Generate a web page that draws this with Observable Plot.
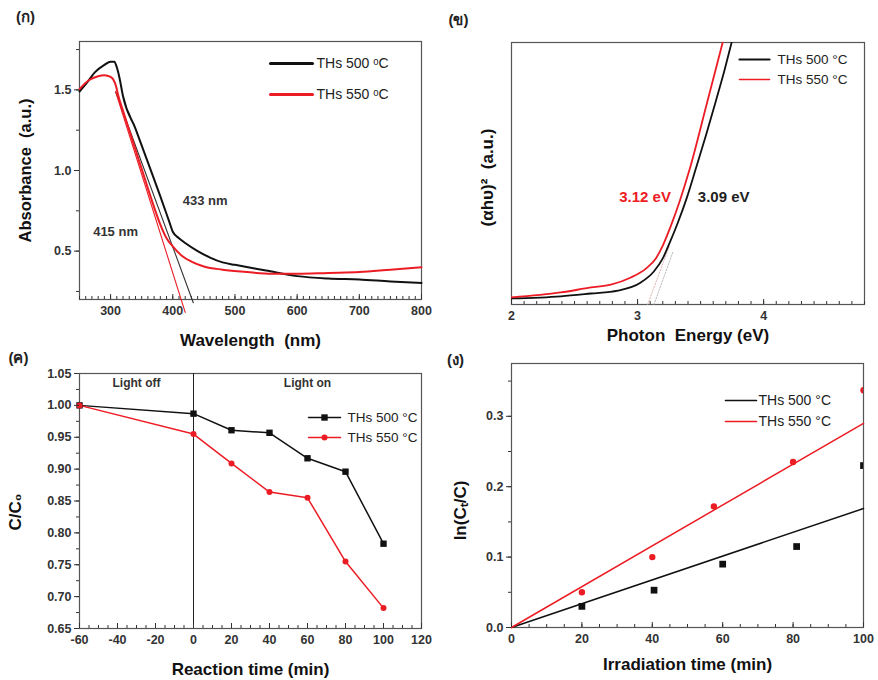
<!DOCTYPE html>
<html>
<head>
<meta charset="utf-8">
<script src="https://cdn.jsdelivr.net/npm/d3@7"></script>
<script src="https://cdn.jsdelivr.net/npm/@observablehq/plot@0.6"></script>
<style>
  html, body { margin: 0; padding: 0; background: #fff; }
  #wrap { position: relative; width: 878px; height: 680px; overflow: hidden; background: #fff; }
  .panel { position: absolute; }
</style>
</head>
<body>
<div id="wrap"></div>
<script>
// ---------- DATA ----------
// Panel (ก): UV-Vis absorbance
const wl500 = [250,262,275,290,300,306,310,314,320,340,360,380,395,400,410,420,440,460,480,500,550,600,650,700,750,800];
const abs500 = [1.49,1.545,1.61,1.655,1.675,1.675,1.64,1.58,1.46,1.26,1.05,0.84,0.675,0.62,0.58,0.55,0.50,0.46,0.43,0.415,0.38,0.345,0.33,0.324,0.312,0.303];
const wl550 = [250,265,280,290,300,305,309,312,320,335,350,365,380,390,400,415,430,450,480,520,560,600,650,700,750,800];
const abs550 = [1.505,1.56,1.585,1.59,1.58,1.56,1.52,1.47,1.37,1.19,1.01,0.83,0.665,0.58,0.53,0.47,0.435,0.405,0.385,0.37,0.36,0.36,0.365,0.37,0.385,0.40];
const tangentWl500 = [308, 433], tangentAbs500 = [1.49, 0.18];
const tangentWl550 = [308, 420], tangentAbs550 = [1.49, 0.12];
const edgeLabels = ["433 nm", "415 nm"];
const edgeLabelWl = [452, 308], edgeLabelAbs = [0.81, 0.62];

// Panel (ข): Tauc plot
const ev500 = [2.0,2.391,2.629,2.844,3.026,3.129,3.2,3.256,3.32,3.391,3.463,3.542,3.62,3.69,3.746];
const tauc500 = [0.023,0.031,0.042,0.053,0.084,0.126,0.176,0.237,0.313,0.408,0.52,0.645,0.775,0.895,1.0];
const ev550 = [2.0,2.391,2.629,2.788,2.947,3.066,3.145,3.2,3.264,3.336,3.41,3.542,3.675];
const tauc550 = [0.027,0.046,0.065,0.076,0.103,0.137,0.176,0.225,0.3,0.397,0.511,0.753,1.0];
const tangentEvA = [3.08, 3.25], tangentTaucA = [0, 0.22];
const tangentEvB = [3.13, 3.28], tangentTaucB = [0, 0.20];
const gapLabels = ["3.12 eV", "3.09 eV"];

// Panel (ค): photodegradation C/C0
const time = [-60, 0, 20, 40, 60, 80, 100];
const cc500 = [1.0, 0.987, 0.961, 0.957, 0.917, 0.896, 0.783];
const cc550 = [1.0, 0.955, 0.909, 0.864, 0.855, 0.755, 0.682];
const phaseLabels = ["Light off", "Light on"];
const phaseX = [-30, 60];

// Panel (ง): kinetics ln(C0/C)
const irrTime500 = [20, 40.5, 60, 81, 100];
const ln500 = [0.03, 0.053, 0.09, 0.115, 0.23];
const irrTime550 = [20, 40, 57.5, 80, 100];
const ln550 = [0.05, 0.10, 0.172, 0.235, 0.337];
const fitTime = [0, 100];
const fit500 = [0, 0.169];
const fit550 = [0, 0.29];

// Labels
const seriesNames = ["THs 500 °C", "THs 550 °C"];
const seriesNamesA = ["THs 500 ᵒC", "THs 550 ᵒC"];
const panelLabels = ["(ก)", "(ข)", "(ค)", "(ง)"];
const xTicksA = [300, 400, 500, 600, 700, 800];
const yTicksA = [0.5, 1.0, 1.5];
const xTicksB = [2, 3, 4];
const xTicksC = [-60, -40, -20, 0, 20, 40, 60, 80, 100, 120];
const yTicksC = [0.65, 0.70, 0.75, 0.80, 0.85, 0.90, 0.95, 1.00, 1.05];
const xTicksD = [0, 20, 40, 60, 80, 100];
const yTicksD = [0.0, 0.1, 0.2, 0.3];

// ---------- STYLE ----------
const FONT = "'Liberation Sans', Arial, Helvetica, sans-serif";
const BLACK = "#111";
const RED = "#ec1c24";
const FRAME = "#555";
const TICKCOL = "#333";

const pts = (xs, ys) => xs.map((x, i) => ({x, y: ys[i]}));
const lineShape = {draw(ctx, l) { ctx.moveTo(0, 0); ctx.lineTo(0, -l); }};

function xAxes(major, minor, fmt) {
  return [
    Plot.axisX({ticks: minor, tickSize: 3, dy: -3, tickFormat: () => "", color: TICKCOL, label: null}),
    Plot.axisX({ticks: major, tickSize: 5, dy: -5, tickFormat: () => "", color: TICKCOL, label: null}),
    Plot.axisX({ticks: major, tickSize: 0, tickPadding: 7, tickFormat: fmt, color: "#333", fontSize: 12.5, fontWeight: "bold", label: null})
  ];
}
function yAxes(major, minor, fmt) {
  return [
    Plot.axisY({ticks: minor, tickSize: 3, tickFormat: () => "", color: TICKCOL, label: null}),
    Plot.axisY({ticks: major, tickSize: 5, tickPadding: 3, tickFormat: fmt, color: "#333", fontSize: 12.5, fontWeight: "bold", label: null})
  ];
}
function legendLine(name, color, sw, dx, dy, len, tdx, fs) {
  return [
    Plot.vector([0], {frameAnchor: "top-left", dx, dy, length: len, rotate: 90, anchor: "start", shape: lineShape, stroke: color, strokeWidth: sw}),
    Plot.text([name], {text: d => d, frameAnchor: "top-left", dx: tdx, dy, textAnchor: "start", lineAnchor: "middle", fontSize: fs, fill: "#222"})
  ];
}
function panelLabel(t, dx, dy) {
  return Plot.text([t], {text: d => d, frameAnchor: "top-left", dx, dy, textAnchor: "middle", lineAnchor: "middle", fontSize: 15, fontWeight: "bold", fill: "#222"});
}
function xTitle(t, dy, fs) {
  return Plot.text([t], {text: d => d, frameAnchor: "bottom", dy, textAnchor: "middle", lineAnchor: "middle", fontSize: fs, fontWeight: "bold", fill: "#111"});
}
function yTitle(t, dx, dy, fs) {
  return Plot.text([t], {text: d => d, frameAnchor: "left", dx, dy, rotate: -90, textAnchor: "middle", lineAnchor: "middle", fontSize: fs, fontWeight: "bold", fill: "#111"});
}
const baseStyle = {fontFamily: FONT, overflow: "visible", background: "transparent"};

function place(svg, left, top) {
  const d = document.createElement("div");
  d.className = "panel";
  d.style.left = left + "px";
  d.style.top = top + "px";
  d.appendChild(svg);
  document.getElementById("wrap").appendChild(d);
}

// ---------- PANEL (ก) ----------
const pA = Plot.plot({
  width: 439, height: 352,
  marginLeft: 79, marginRight: 18, marginTop: 41, marginBottom: 53,
  style: baseStyle,
  x: {domain: [250, 800], label: null},
  y: {domain: [0.2, 1.8], label: null},
  marks: [
    Plot.frame({stroke: FRAME, strokeWidth: 1.2}),
    Plot.line(pts(tangentWl500, tangentAbs500), {x: "x", y: "y", stroke: "#333", strokeWidth: 1.1}),
    Plot.line(pts(tangentWl550, tangentAbs550), {x: "x", y: "y", stroke: RED, strokeWidth: 1.1}),
    Plot.line(pts(wl500, abs500), {x: "x", y: "y", stroke: BLACK, strokeWidth: 2, curve: "monotone-x"}),
    Plot.line(pts(wl550, abs550), {x: "x", y: "y", stroke: RED, strokeWidth: 2, curve: "monotone-x"}),
    Plot.text(edgeLabels, {x: (d, i) => edgeLabelWl[i], y: (d, i) => edgeLabelAbs[i], text: d => d, fontSize: 13, fontWeight: "bold", fill: "#333"}),
    ...legendLine(seriesNamesA[0], BLACK, 3, 191, 22, 42, 237, 14),
    ...legendLine(seriesNamesA[1], RED, 3, 191, 53, 42, 237, 14),
    ...xAxes(xTicksA, d3.range(250, 801, 10), d => String(d)),
    ...yAxes(yTicksA, d3.range(0.25, 1.8, 0.25), d => d.toFixed(1)),
    xTitle("Wavelength  (nm)", 41, 17),
    yTitle("Absorbance  (a.u.)", -54, 0, 16.5),
    panelLabel(panelLabels[0], -54, -24)
  ]
});
place(pA, 0, 0);

// ---------- PANEL (ข) ----------
const pB = Plot.plot({
  width: 439, height: 352,
  marginLeft: 72, marginRight: 14, marginTop: 42, marginBottom: 48,
  style: baseStyle,
  x: {domain: [2, 4.8], label: null},
  y: {domain: [0, 1], axis: null, label: null},
  marks: [
    Plot.frame({stroke: FRAME, strokeWidth: 1.2}),
    Plot.line(pts(tangentEvA, tangentTaucA), {x: "x", y: "y", stroke: "#d7a7a7", strokeWidth: 0.8, strokeDasharray: "1.5,1.5"}),
    Plot.line(pts(tangentEvB, tangentTaucB), {x: "x", y: "y", stroke: "#aaa", strokeWidth: 0.8, strokeDasharray: "1.5,1.5"}),
    Plot.line(pts(ev500, tauc500), {x: "x", y: "y", stroke: BLACK, strokeWidth: 1.8, curve: "monotone-x", clip: true}),
    Plot.line(pts(ev550, tauc550), {x: "x", y: "y", stroke: RED, strokeWidth: 1.8, curve: "monotone-x", clip: true}),
    Plot.text([gapLabels[0]], {x: [3.265], y: [0.408], text: d => d, textAnchor: "end", fontSize: 15, fontWeight: "bold", fill: RED}),
    Plot.text([gapLabels[1]], {x: [3.478], y: [0.408], text: d => d, textAnchor: "start", fontSize: 15, fontWeight: "bold", fill: "#222"}),
    ...legendLine(seriesNames[0], BLACK, 2.2, 228, 17, 30, 266, 13.5),
    ...legendLine(seriesNames[1], RED, 1.6, 228, 37, 30, 266, 13.5),
    ...xAxes(xTicksB, d3.range(2, 4.81, 0.1), d => String(d)),
    xTitle("Photon  Energy (eV)", 31, 17),
    yTitle("(αhυ)²  (a.u.)", -24, 4, 17),
    panelLabel(panelLabels[1], -53, -22)
  ]
});
place(pB, 439, 0);

// ---------- PANEL (ค) ----------
const pC = Plot.plot({
  width: 439, height: 328,
  marginLeft: 79, marginRight: 18, marginTop: 21, marginBottom: 52,
  style: baseStyle,
  x: {domain: [-60, 120], label: null},
  y: {domain: [0.65, 1.05], label: null},
  marks: [
    Plot.frame({stroke: FRAME, strokeWidth: 1.2}),
    Plot.ruleX([0], {stroke: "#222", strokeWidth: 1}),
    Plot.text(phaseLabels, {x: (d, i) => phaseX[i], y: [1.035, 1.035], text: d => d, fontSize: 12, fontWeight: "bold", fill: "#333"}),
    Plot.line(pts(time, cc500), {x: "x", y: "y", stroke: BLACK, strokeWidth: 1.5}),
    Plot.line(pts(time, cc550), {x: "x", y: "y", stroke: RED, strokeWidth: 1.5}),
    Plot.dot(pts(time, cc500), {x: "x", y: "y", symbol: "square", r: 3.6, fill: BLACK}),
    Plot.dot(pts(time, cc550), {x: "x", y: "y", symbol: "circle", r: 3, fill: RED}),
    ...legendLine(seriesNames[0], BLACK, 1.5, 229, 44, 32, 268, 13.5),
    ...legendLine(seriesNames[1], RED, 1.5, 229, 64, 32, 268, 13.5),
    Plot.dot([0], {frameAnchor: "top-left", dx: 245, dy: 44, symbol: "square", r: 3.6, fill: BLACK}),
    Plot.dot([0], {frameAnchor: "top-left", dx: 245, dy: 64, symbol: "circle", r: 3, fill: RED}),
    ...xAxes(xTicksC, d3.range(-60, 121, 5), d => String(d)),
    ...yAxes(yTicksC, d3.range(0.65, 1.051, 0.025), d => d.toFixed(2)),
    xTitle("Reaction time (min)", 41, 17),
    yTitle("C/C₀", -64, 11, 17),
    panelLabel(panelLabels[2], -61, -15)
  ]
});
place(pC, 0, 352);

// ---------- PANEL (ง) ----------
const pD = Plot.plot({
  width: 439, height: 328,
  marginLeft: 72, marginRight: 15, marginTop: 11, marginBottom: 53,
  style: baseStyle,
  x: {domain: [0, 100], label: null},
  y: {domain: [0, 0.375], label: null},
  marks: [
    Plot.frame({stroke: FRAME, strokeWidth: 1.2}),
    Plot.line(pts(fitTime, fit500), {x: "x", y: "y", stroke: BLACK, strokeWidth: 1.5}),
    Plot.line(pts(fitTime, fit550), {x: "x", y: "y", stroke: RED, strokeWidth: 1.5}),
    Plot.dot(pts(irrTime500, ln500), {x: "x", y: "y", symbol: "square", r: 3.8, fill: BLACK, clip: true}),
    Plot.dot(pts(irrTime550, ln550), {x: "x", y: "y", symbol: "circle", r: 3.2, fill: RED, clip: true}),
    ...legendLine(seriesNames[0], BLACK, 1.6, 214, 37, 31, 247, 14),
    ...legendLine(seriesNames[1], RED, 1.6, 214, 58, 31, 247, 14),
    ...xAxes(xTicksD, d3.range(0, 101, 5), d => String(d)),
    ...yAxes(yTicksD, d3.range(0, 0.376, 0.05), d => d.toFixed(1)),
    xTitle("Irradiation time (min)", 37, 17),
    yTitle("ln(Cₜ/C)", -51, 15, 17),
    panelLabel(panelLabels[3], -56, -3)
  ]
});
place(pD, 439, 352);
</script>
</body>
</html>
